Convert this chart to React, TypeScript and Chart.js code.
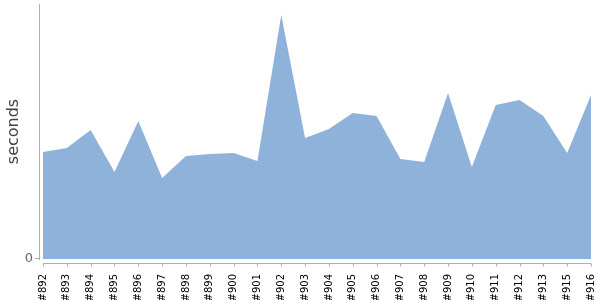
import React, { useEffect, useRef } from "react";
import { Chart, registerables } from "chart.js";

Chart.register(...registerables);

const categories = ["#892","#893","#894","#895","#896","#897","#898","#899","#900","#901","#902","#903","#904","#905","#906","#907","#908","#909","#910","#911","#912","#913","#915","#916"];
const seconds = [107,111,129,87,138,81,103,105,106,98,244,121,130,146,143,100,97,166,92,154,159,143,106,164];
const yTicks = [0];
const yMax = 255;

const axisLines = {
  id: "axisLines",
  afterDraw(chart: any) {
    const { ctx, chartArea } = chart;
    const x = chart.scales.x;
    ctx.save();
    ctx.strokeStyle = "#b0b0b0";
    ctx.lineWidth = 1;
    ctx.beginPath();
    ctx.moveTo(39.5, chartArea.top);
    ctx.lineTo(39.5, chartArea.bottom + 1);
    ctx.moveTo(35, Math.round(chart.scales.y.getPixelForValue(0)) - 0.5);
    ctx.lineTo(39.5, Math.round(chart.scales.y.getPixelForValue(0)) - 0.5);
    const ay = chartArea.bottom + 4.5;
    ctx.moveTo(chartArea.left, ay);
    ctx.lineTo(chartArea.right, ay);
    for (let i = 0; i < categories.length; i++) {
      const px = Math.round(x.getPixelForValue(i)) + 0.5;
      ctx.moveTo(px, ay);
      ctx.lineTo(px, ay + 3);
    }
    ctx.stroke();
    ctx.restore();
  },
};

const zeroPad = (s: any) => {
  s.paddingLeft = 0;
  s.paddingRight = 0;
  s.paddingTop = 0;
  s.paddingBottom = 0;
};

export default function App() {
  const ref = useRef<HTMLCanvasElement | null>(null);
  useEffect(() => {
    document.body.style.margin = "0";
    const chart = new Chart(ref.current as HTMLCanvasElement, {
      type: "line",
      data: {
        labels: categories,
        datasets: [
          {
            data: seconds,
            fill: "origin",
            backgroundColor: "#8fb2db",
            borderColor: "#8fb2db",
            borderWidth: 0,
            pointRadius: 0,
            tension: 0,
          },
        ],
      },
      options: {
        animation: false,
        responsive: false,
        layout: { padding: { top: 4, right: 9, left: 0, bottom: 0 } },
        plugins: { legend: { display: false }, tooltip: { enabled: false } },
        scales: {
          x: {
            offset: false,
            grid: { display: false, drawTicks: false, tickLength: 0 },
            border: { display: false },
            ticks: {
              autoSkip: false,
              maxRotation: 90,
              minRotation: 90,
              padding: 15,
              color: "#000",
              font: { family: "DejaVu Sans", size: 10 },
            },
            afterFit: (s: any) => { s.height = 41; zeroPad(s); },
          },
          y: {
            min: 0,
            max: yMax,
            grid: { display: false, drawTicks: false, tickLength: 0 },
            border: { display: false },
            afterBuildTicks: (s: any) => { s.ticks = yTicks.map((v) => ({ value: v })); },
            ticks: {
              padding: 10,
              color: "#666",
              font: { family: "DejaVu Sans", size: 13 },
            },
            title: {
              display: true,
              text: "seconds",
              color: "#444",
              font: { family: "DejaVu Sans", size: 16 },
              padding: { top: 4, bottom: 0 },
            },
            afterFit: (s: any) => { s.width = 43; zeroPad(s); },
          },
        },
      },
      plugins: [axisLines],
    });
    return () => chart.destroy();
  }, []);
  return (
    <div style={{ width: 600, height: 300 }}>
      <canvas ref={ref} width={600} height={300} style={{ display: "block" }} />
    </div>
  );
}
